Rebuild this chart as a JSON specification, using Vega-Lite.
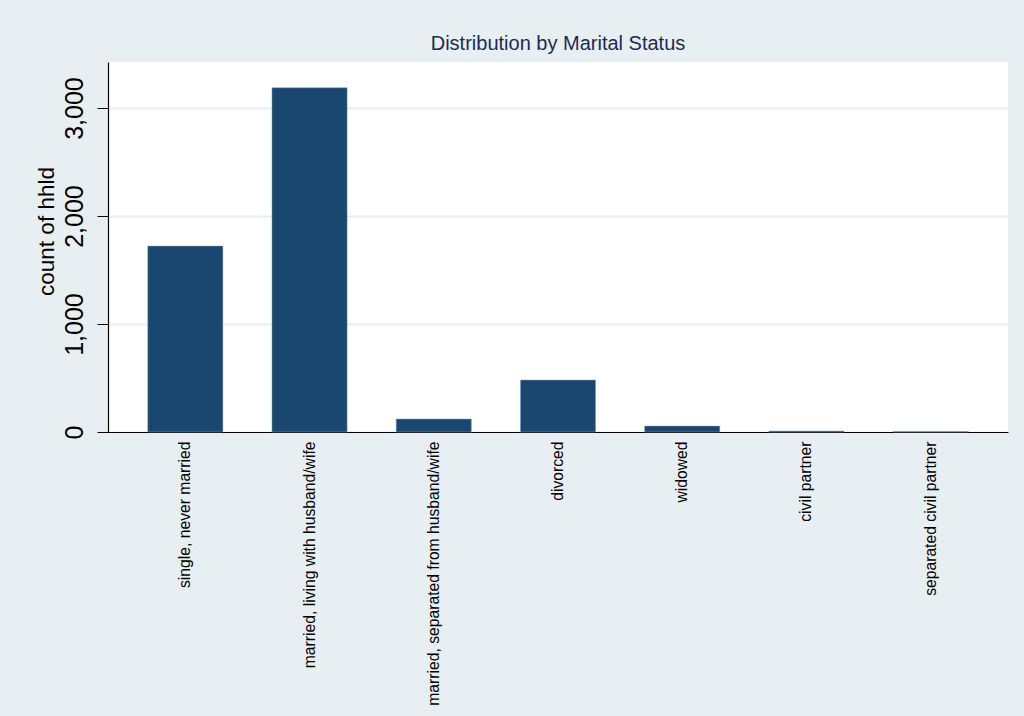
{
  "$schema": "https://vega.github.io/schema/vega-lite/v6.json",
  "width": 900,
  "height": 370,
  "autosize": {"type": "none"},
  "padding": {"left": 108, "top": 62, "right": 16, "bottom": 284},
  "background": "#e8eff2",
  "title": {
    "text": "Distribution by Marital Status",
    "font": "Liberation Sans",
    "fontSize": 20,
    "fontWeight": "normal",
    "color": "#1e2a52",
    "anchor": "middle",
    "offset": 8
  },
  "data": {
    "values": [
      {"status": "single, never married", "count": 1722, "order": 1},
      {"status": "married, living with husband/wife", "count": 3188, "order": 2},
      {"status": "married, separated from husband/wife", "count": 120, "order": 3},
      {"status": "divorced", "count": 481, "order": 4},
      {"status": "widowed", "count": 55, "order": 5},
      {"status": "civil partner", "count": 9, "order": 6},
      {"status": "separated civil partner", "count": 4, "order": 7}
    ]
  },
  "mark": {"type": "bar", "color": "#1a476f", "stroke": "#8ca3b8", "strokeWidth": 0.5},
  "encoding": {
    "x": {
      "field": "status",
      "type": "nominal",
      "sort": {"field": "order"},
      "scale": {"paddingInner": 0.395, "paddingOuter": 0.32},
      "axis": {
        "title": null,
        "labelAngle": -90,
        "labelFont": "Liberation Sans",
        "labelFontSize": 15.7,
        "labelColor": "#000000",
        "labelPadding": 9,
        "ticks": false,
        "domainColor": "#000000",
        "domainWidth": 1.2,
        "labelLimit": 400
      }
    },
    "y": {
      "field": "count",
      "type": "quantitative",
      "scale": {"domain": [0, 3426], "nice": false},
      "axis": {
        "title": "count of hhld",
        "titleFont": "Liberation Sans",
        "titleFontSize": 22.5,
        "titleFontWeight": "normal",
        "titleColor": "#000000",
        "titlePadding": 4,
        "titleY": 169,
        "titleAlign": "center",
        "values": [0, 1000, 2000, 3000],
        "format": ",d",
        "labelAngle": -90,
        "labelAlign": "center",
        "labelBaseline": "bottom",
        "labelFont": "Liberation Sans",
        "labelFontSize": 25,
        "labelColor": "#000000",
        "labelPadding": 10,
        "tickSize": 11,
        "tickColor": "#000000",
        "domainColor": "#000000",
        "domainWidth": 1.2,
        "grid": true,
        "gridColor": "#e6eef1",
        "gridWidth": 2
      }
    }
  },
  "config": {
    "view": {"fill": "#ffffff", "stroke": null}
  }
}
